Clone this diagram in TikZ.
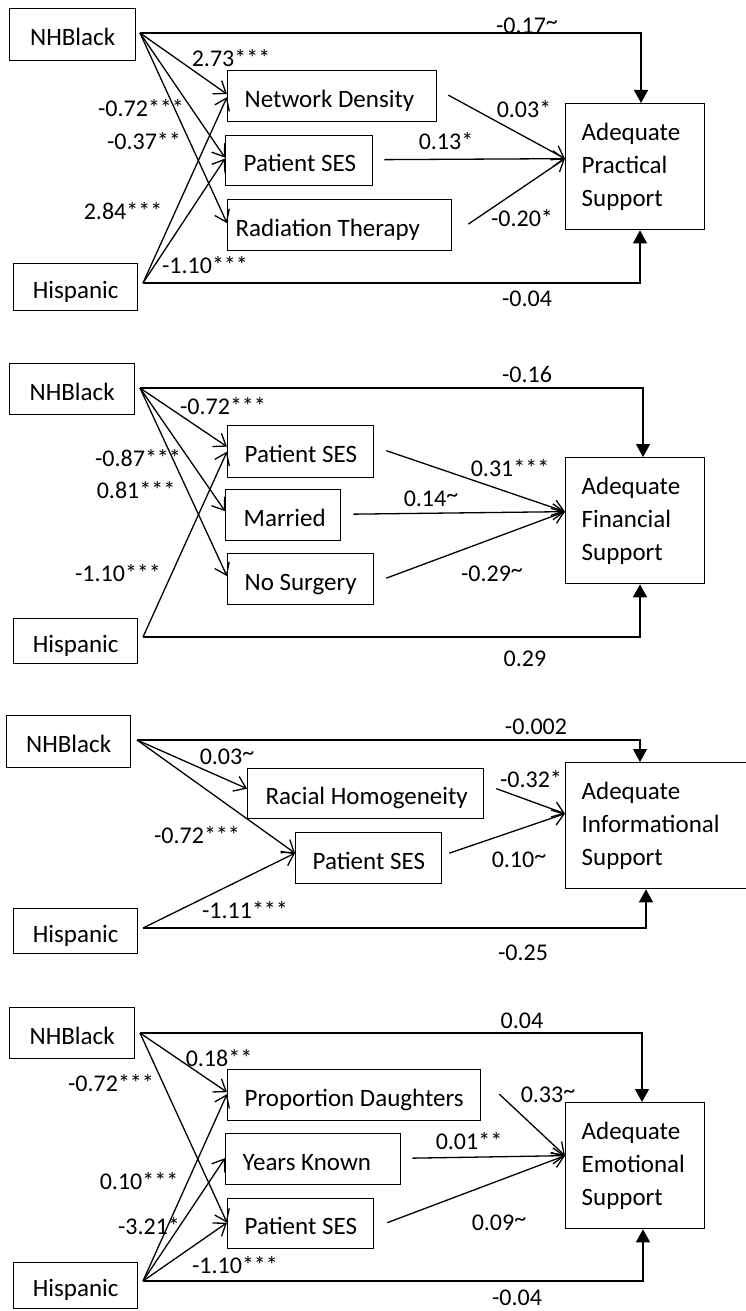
\documentclass[tikz,border=0pt]{standalone}
\usepackage{fontspec}
\setmainfont{Carlito}
\usetikzlibrary{arrows.meta,calc}
\newcommand{\lbox}[2]{\makebox[#1][l]{#2}}
\newcommand{\tld}{\raisebox{4pt}{\textasciitilde}}
\tikzset{
  lw/.style={line width=1.3pt},
  srcbox/.style={draw, lw, inner sep=0pt, text height=22pt, text depth=0pt,
    font=\fontsize{25}{33}\selectfont, align=center, anchor=north west},
  medbox/.style={draw, lw, inner ysep=0pt, text height=22pt, text depth=0pt,
    font=\fontsize{25}{33}\selectfont, anchor=north west},
  outbox/.style={draw, lw, inner ysep=0pt, inner xsep=16pt,
    font=\fontsize{25}{33}\selectfont, align=left, anchor=north west},
  lab/.style={inner sep=0pt, text height=15pt, text depth=0pt, font=\fontsize{24}{28}\selectfont},
  med/.style={lw, -{Straight Barb[length=11pt,width=16pt,line width=1.3pt]}},
  dir/.style={lw, -{Triangle[length=13pt,width=14pt]}}
}
\begin{document}
\begin{tikzpicture}[x=1pt,y=-1pt]
\useasboundingbox (0,0) rectangle (746,1311);

% ================= Panel 1 =================
\node[srcbox, minimum width=126pt, minimum height=52pt] (nb1) at (9,8) {NHBlack};
\node[srcbox, minimum width=124pt, minimum height=47pt] (hi1) at (13,263) {Hispanic};
\node[medbox, minimum width=209pt, minimum height=51pt, inner xsep=17pt] (nd1) at (227,70) {\lbox{175pt}{Network Density}};
\node[medbox, minimum width=147pt, minimum height=50pt, inner xsep=18pt] (ps1) at (225,135) {\lbox{111pt}{Patient SES}};
\node[medbox, minimum width=224pt, minimum height=51pt, inner xsep=8pt] (rt1) at (227,199) {\lbox{208pt}{Radiation Therapy}};
\node[outbox, minimum width=139pt, minimum height=126pt, text width=107pt] (out1) at (565,103) {Adequate\\Practical\\Support};
\coordinate (s1) at (140,33);
\coordinate (h1) at (143,283);
\coordinate (t1) at ([yshift=8pt]out1.west);

\draw[dir] (s1) -| ($(out1.north west)+(76,0)$);
\draw[dir] (h1) -| ($(out1.south west)+(75,0)$);
\draw[med] (s1) -- ([yshift=2pt]nd1.west);
\draw[med] (s1) -- ([yshift=3pt]ps1.west);
\draw[med] (s1) -- ([yshift=2pt]rt1.west);
\draw[med] (h1) -- ([yshift=-1pt]nd1.west);
\draw[med] (h1) -- ([yshift=2pt]ps1.west);
\draw[med] ([xshift=11pt,yshift=1pt]nd1.east) -- (t1);
\draw[med] ([xshift=11pt,yshift=1pt]ps1.east) -- (t1);
\draw[med] ([xshift=16pt,yshift=1pt]rt1.east) -- (t1);

\node[lab] (l1a) at (527,26) {-0.17\tld};
\node[lab] (l1b) at (231,59) {2.73***};
\node[lab] (l1c) at (141,109) {-0.72***};
\node[lab] (l1d) at (144,142) {-0.37**};
\node[lab] (l1e) at (123,212) {2.84***};
\node[lab] (l1f) at (205,266) {-1.10***};
\node[lab] (l1g) at (524,110) {0.03*};
\node[lab] (l1h) at (446,142) {0.13*};
\node[lab] (l1i) at (522,219) {-0.20*};
\node[lab] (l1j) at (527,299) {-0.04};

% ================= Panel 2 =================
\node[srcbox, minimum width=125pt, minimum height=51pt] (nb2) at (9,363) {NHBlack};
\node[srcbox, minimum width=124pt, minimum height=45pt] (hi2) at (13,618) {Hispanic};
\node[medbox, minimum width=146pt, minimum height=52pt, inner xsep=17pt] (ps2) at (227,425) {\lbox{112pt}{Patient SES}};
\node[medbox, minimum width=115pt, minimum height=51pt, inner xsep=18pt] (ma2) at (225,489) {\lbox{79pt}{Married}};
\node[medbox, minimum width=146pt, minimum height=51pt, inner xsep=17pt] (ns2) at (227,553) {\lbox{112pt}{No Surgery}};
\node[outbox, minimum width=139pt, minimum height=126pt, text width=107pt] (out2) at (565,457) {Adequate\\Financial\\Support};
\coordinate (s2) at (140,388);
\coordinate (h2) at (143,637);
\coordinate (t2) at ([yshift=9pt]out2.west);

\draw[dir] (s2) -| ($(out2.north west)+(78,0)$);
\draw[dir] (h2) -| ($(out2.south west)+(75,0)$);
\draw[med] (s2) -- ([yshift=5pt]ps2.west);
\draw[med] (s2) -- ([yshift=4pt]ma2.west);
\draw[med] (s2) -- ([yshift=3pt]ns2.west);
\draw[med] (h2) -- ([yshift=0pt]ps2.west);
\draw[med] ([xshift=12pt,yshift=1pt]ps2.east) -- (t2);
\draw[med] ([xshift=12pt,yshift=1pt]ma2.east) -- (t2);
\draw[med] ([xshift=12pt,yshift=1pt]ns2.east) -- (t2);

\node[lab] (l2a) at (527,375) {-0.16};
\node[lab] (l2b) at (223,407) {-0.72***};
\node[lab] (l2c) at (138,459) {-0.87***};
\node[lab] (l2d) at (136,491) {0.81***};
\node[lab] (l2e) at (118,574) {-1.10***};
\node[lab] (l2f) at (510,469) {0.31***};
\node[lab] (l2g) at (431,499) {0.14\tld};
\node[lab] (l2h) at (492,574) {-0.29\tld};
\node[lab] (l2i) at (525,659) {0.29};

% ================= Panel 3 =================
\node[srcbox, minimum width=124pt, minimum height=52pt] (nb3) at (6,715) {NHBlack};
\node[srcbox, minimum width=124pt, minimum height=45pt] (hi3) at (13,908) {Hispanic};
\node[medbox, minimum width=236pt, minimum height=50pt, inner xsep=18pt] (rh3) at (247,768) {\lbox{200pt}{Racial Homogeneity}};
\node[medbox, minimum width=146pt, minimum height=51pt, inner xsep=17pt] (ps3) at (295,832) {\lbox{112pt}{Patient SES}};
\node[outbox, minimum width=205pt, minimum height=126pt, text width=173pt] (out3) at (565,762) {Adequate\\Informational\\Support};
\coordinate (s3) at (137,740);
\coordinate (h3) at (143,928);
\coordinate (t3) at ([yshift=12pt]out3.west);

\draw[dir] (s3) -| ($(out3.north west)+(75,0)$);
\draw[dir] (h3) -| ($(out3.south west)+(81,0)$);
\draw[med] (s3) -- ([yshift=5pt]rh3.west);
\draw[med] (s3) -- ([yshift=5pt]ps3.west);
\draw[med] (h3) -- ([yshift=5pt]ps3.west);
\draw[med] ([xshift=12pt,yshift=5pt]rh3.east) -- (t3);
\draw[med] ([xshift=7pt,yshift=5pt]ps3.east) -- (t3);

\node[lab] (l3a) at (536,727) {-0.002};
\node[lab] (l3b) at (227,757) {0.03\tld};
\node[lab] (l3c) at (197,836) {-0.72***};
\node[lab] (l3d) at (245,911) {-1.11***};
\node[lab] (l3e) at (531,780) {-0.32*};
\node[lab] (l3f) at (519,860) {0.10\tld};
\node[lab] (l3g) at (523,953) {-0.25};

% ================= Panel 4 =================
\node[srcbox, minimum width=125pt, minimum height=51pt] (nb4) at (9,1007) {NHBlack};
\node[srcbox, minimum width=124pt, minimum height=46pt] (hi4) at (13,1262) {Hispanic};
\node[medbox, minimum width=253pt, minimum height=51pt, inner xsep=17pt] (pd4) at (227,1069) {\lbox{219pt}{Proportion Daughters}};
\node[medbox, minimum width=175pt, minimum height=51pt, inner xsep=17pt] (yk4) at (225,1133) {\lbox{141pt}{Years Known}};
\node[medbox, minimum width=146pt, minimum height=50pt, inner xsep=17pt] (ps4) at (227,1198) {\lbox{112pt}{Patient SES}};
\node[outbox, minimum width=139pt, minimum height=126pt, text width=107pt] (out4) at (565,1102) {Adequate\\Emotional\\Support};
\coordinate (s4) at (140,1033);
\coordinate (h4) at (143,1281);
\coordinate (t4) at ([yshift=10pt]out4.west);

\draw[dir] (s4) -| ($(out4.north west)+(77,0)$);
\draw[dir] (h4) -| ($(out4.south west)+(78,0)$);
\draw[med] (s4) -- ([yshift=3pt]pd4.west);
\draw[med] (s4) -- ([yshift=1pt]ps4.west);
\draw[med] (h4) -- ([yshift=1pt]pd4.west);
\draw[med] (h4) -- ([yshift=1pt]yk4.west);
\draw[med] (h4) -- ([yshift=1pt]ps4.west);
\draw[med] ([xshift=18pt,yshift=1pt]pd4.east) -- (t4);
\draw[med] ([xshift=11pt,yshift=1pt]yk4.east) -- (t4);
\draw[med] ([xshift=13pt,yshift=1pt]ps4.east) -- (t4);

\node[lab] (l4a) at (522,1021) {0.04};
\node[lab] (l4b) at (219,1059) {0.18**};
\node[lab] (l4c) at (111,1084) {-0.72***};
\node[lab] (l4d) at (139,1182) {0.10***};
\node[lab] (l4e) at (149,1227) {-3.21*};
\node[lab] (l4f) at (235,1266) {-1.10***};
\node[lab] (l4g) at (548,1095) {0.33\tld};
\node[lab] (l4h) at (469,1142) {0.01**};
\node[lab] (l4i) at (499,1223) {0.09\tld};
\node[lab] (l4j) at (517,1298) {-0.04};
\end{tikzpicture}
\end{document}
